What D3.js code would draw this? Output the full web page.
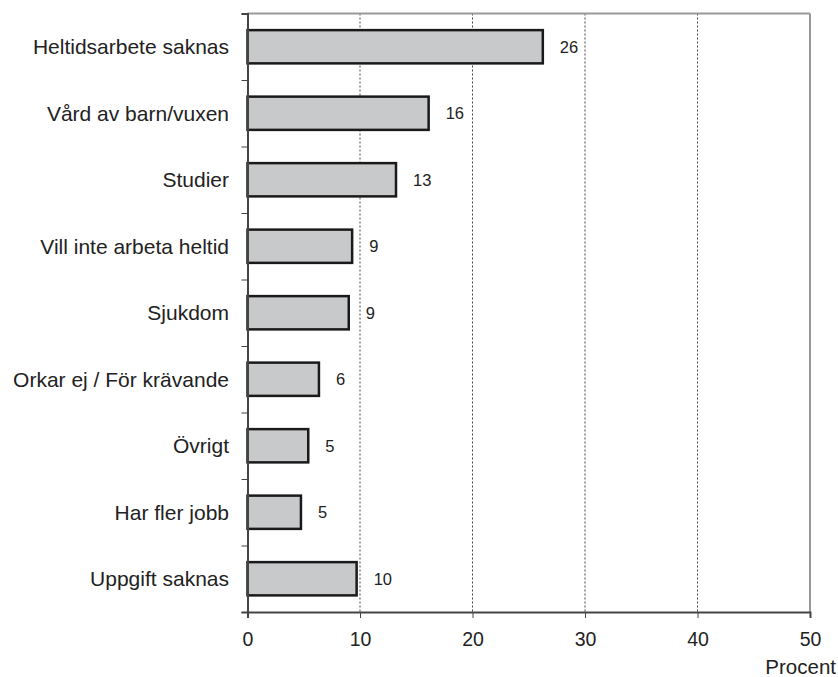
<!DOCTYPE html>
<html><head><meta charset="utf-8">
<script src="https://cdn.jsdelivr.net/npm/d3@7"></script>
<style>body{margin:0;background:#fff}svg{display:block}text{font-family:Arial,"Liberation Sans",sans-serif}</style>
</head><body>
<script>
const categories = ["Heltidsarbete saknas","Vård av barn/vuxen","Studier","Vill inte arbeta heltid","Sjukdom","Orkar ej / För krävande","Övrigt","Har fler jobb","Uppgift saknas"];
const values = [26.25,16.1,13.2,9.3,9.0,6.35,5.4,4.75,9.7];
const valueLabels = ["26","16","13","9","9","6","5","5","10"];
const xTicks = [0,10,20,30,40,50];
const xTitle = "Procent";

const W=838,H=677;
const m={top:13.5,right:28,bottom:65,left:247.5};
const svg=d3.select("body").append("svg").attr("width",W).attr("height",H);
const x=d3.scaleLinear().domain([0,50]).range([m.left,W-m.right]);
const y=d3.scaleBand().domain(categories).range([m.top,H-m.bottom]).paddingInner(0.5).paddingOuter(0.25);

// gridlines
svg.append("g").selectAll("line").data(xTicks.filter(t=>t>0&&t<50)).join("line")
 .attr("x1",d=>x(d)).attr("x2",d=>x(d)).attr("y1",m.top).attr("y2",H-m.bottom)
 .attr("stroke","#444").attr("stroke-width",1).attr("stroke-dasharray","2,2");

// top & right border
svg.append("line").attr("x1",m.left).attr("x2",x(50)).attr("y1",m.top).attr("y2",m.top).attr("stroke","#999").attr("stroke-width",2);
svg.append("line").attr("x1",x(50)).attr("x2",x(50)).attr("y1",m.top).attr("y2",H-m.bottom).attr("stroke","#999").attr("stroke-width",2);

// bars
svg.append("g").selectAll("rect").data(values).join("rect")
 .attr("x",x(0)).attr("y",(d,i)=>y(categories[i]))
 .attr("width",d=>x(d)-x(0)).attr("height",y.bandwidth())
 .attr("fill","#c8c9cb").attr("stroke","#1a1a1a").attr("stroke-width",2.5);

// value labels
svg.append("g").selectAll("text").data(values).join("text")
 .attr("x",d=>x(d)+17).attr("y",(d,i)=>y(categories[i])+y.bandwidth()/2)
 .attr("dy","0.36em").attr("font-size",16.5).attr("fill","#222").text((d,i)=>valueLabels[i]);

// y axis
const yb=d3.scaleLinear().domain([0,categories.length]).range([m.top,H-m.bottom]);
const ya=svg.append("g").attr("transform",`translate(${m.left},0)`)
 .call(d3.axisLeft(yb).tickValues(d3.range(0,categories.length+1)).tickSize(6).tickFormat(""));
ya.select(".domain").attr("stroke","#444").attr("stroke-width",2);
ya.selectAll(".tick line").attr("stroke","#444").attr("stroke-width",1);

// category labels
svg.append("g").selectAll("text").data(categories).join("text")
 .attr("x",229).attr("y",d=>y(d)+y.bandwidth()/2).attr("dy","0.36em")
 .attr("text-anchor","end").attr("font-size",21).attr("fill","#222").text(d=>d);

// x axis
const xa=svg.append("g").attr("transform",`translate(0,${H-m.bottom})`)
 .call(d3.axisBottom(x).tickValues(xTicks).tickSize(6).tickPadding(14));
xa.select(".domain").attr("stroke","#444").attr("stroke-width",2);
xa.selectAll(".tick line").attr("stroke","#444");
xa.selectAll(".tick text").attr("font-size",19.5).attr("fill","#222").attr("font-family","Arial,'Liberation Sans',sans-serif");

svg.append("text").attr("x",836).attr("y",674).attr("text-anchor","end")
 .attr("font-size",20.5).attr("fill","#222").text(xTitle);
</script>
</body></html>
